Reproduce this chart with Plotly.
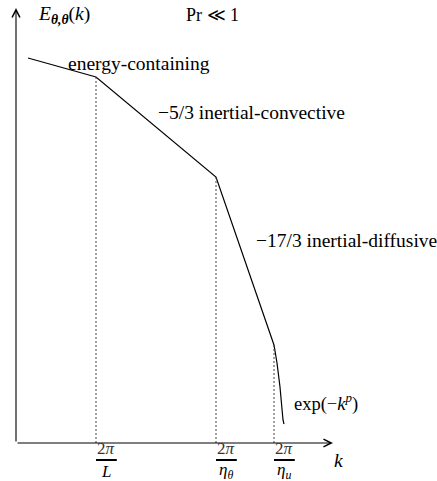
import plotly.graph_objects as go

# Schematic spectrum in log units (log k, log E)
spectrum_logk = [0.3, 2.0, 5.0, 6.45]
spectrum_logE = [19.25, 18.3, 13.3, 4.9]
tail_logk = [6.45, 6.525, 6.6, 6.675, 6.7]
tail_logE = [4.9, 4.0, 2.8, 1.15, 0.95]

# characteristic wavenumbers and their labels
break_logk = [2.0, 5.0, 6.45]
break_logE = [18.3, 13.3, 4.9]
break_denoms = ["<i>L</i>", "<i>η<sub>θ</sub></i>", "<i>η<sub>u</sub></i>"]

FONT = "Liberation Serif"

fig = go.Figure()

fig.add_trace(go.Scatter(x=spectrum_logk + tail_logk[1:], y=spectrum_logE + tail_logE[1:],
                         mode="lines", line=dict(color="black", width=1.2),
                         showlegend=False, hoverinfo="skip"))

for kx, ey in zip(break_logk, break_logE):
    fig.add_trace(go.Scatter(x=[kx, kx], y=[0, ey], mode="lines",
                             line=dict(color="#444", width=1, dash="2px,2px"),
                             showlegend=False, hoverinfo="skip"))

# axes arrows
fig.add_annotation(x=7.925, y=0, ax=0, ay=0, xref="x", yref="y", axref="x", ayref="y",
                   showarrow=True, arrowhead=5, arrowsize=1.4, arrowwidth=1.1, arrowcolor="black", text="")
fig.add_annotation(x=0, y=21.75, ax=0, ay=0, xref="x", yref="y", axref="x", ayref="y",
                   showarrow=True, arrowhead=5, arrowsize=1.4, arrowwidth=1.1, arrowcolor="black", text="")

def txt(x, y, s, size=19.5, xanchor="left", color="black"):
    fig.add_annotation(x=x, y=y, xref="x", yref="y", text=s, showarrow=False,
                       xanchor=xanchor, yanchor="middle",
                       font=dict(family=FONT, size=size, color=color))

txt(0.5, 21.4, "<i>E</i><sub><b><i>θ,θ</i></b></sub>(<i>k</i>)")
txt(4.2, 21.4, "Pr ≪ 1", size=18)
txt(1.25, 19.0, "energy-containing")
txt(3.5, 16.55, "−5/3 inertial-convective")
txt(5.95, 10.15, "−17/3 inertial-diffusive")
txt(6.9, 2.05, "exp(−<i>k<sup>p</sup></i>)", size=18.5)
txt(8.05, -0.85, "<i>k</i>", xanchor="center")

# fraction tick labels
for kx, den in zip(break_logk, break_denoms):
    txt(kx + 0.25, -0.25, "2<i>π</i>", size=17, xanchor="center", color="#333")
    fig.add_shape(type="line", x0=kx, x1=kx + 0.52, y0=-0.85, y1=-0.85, xref="x", yref="y",
                  line=dict(color="black", width=2))
    txt(kx + 0.25, -1.4, den, size=17, xanchor="center")

fig.update_layout(
    width=437, height=481, margin=dict(l=0, r=0, t=0, b=0),
    plot_bgcolor="white", paper_bgcolor="white",
    xaxis=dict(range=[-0.4, 10.525], visible=False, domain=[0, 1], fixedrange=True),
    yaxis=dict(range=[-1.9, 22.15], visible=False, domain=[0, 1], fixedrange=True),
)

fig.write_html("out.html", config={"displayModeBar": False},
               post_script="document.body.style.margin='0';")
